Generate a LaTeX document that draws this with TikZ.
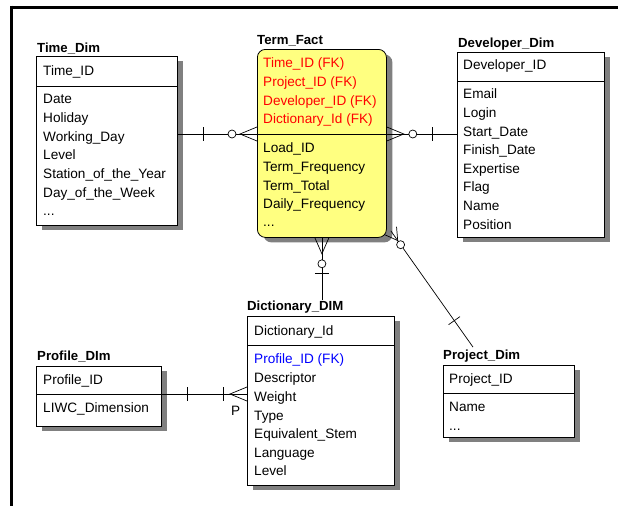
\documentclass[tikz,border=0pt]{standalone}
\usepackage{fontspec}
\setmainfont{Liberation Sans}
\usetikzlibrary{calc,shadows}
\definecolor{factyellow}{RGB}{255,255,128}
\definecolor{shadowgray}{RGB}{128,128,128}
\definecolor{fkred}{RGB}{255,0,0}
\definecolor{fkblue}{RGB}{0,0,255}

\begin{document}
\begin{tikzpicture}[x=1pt,y=-1pt,
  font=\fontsize{13.6}{16}\selectfont,
  entity/.style={draw=black, line width=0.8pt, fill=white, anchor=north west, inner sep=0pt,
     general shadow={fill=shadowgray, shadow xshift=6pt, shadow yshift=-5pt}},
  fact/.style={entity, fill=factyellow, rounded corners=8pt},
  row/.style={anchor=west, inner sep=0pt, text height=9.7pt, text depth=0pt},
  title/.style={anchor=base west, inner sep=0pt, text height=9.7pt, font=\fontsize{13.2}{16}\selectfont\bfseries},
  sepline/.style={line width=0.8pt},
  rel/.style={line width=0.7pt},
  opt/.style={rel, fill=white},
]
\useasboundingbox (0,0) rectangle (618,506);

% page frame
\draw[line width=3pt] (10,7) -- (618,7);
\draw[line width=3pt] (11,5.5) -- (11,506);

% ---------- Time_Dim ----------
\node[entity, minimum width=141pt, minimum height=169pt] (time) at (36,56) {};
\node[title] (time-t) at ([xshift=1pt,yshift=4pt]time.north west) {Time\_Dim};
\draw[sepline] ([yshift=-30pt]time.north west) -- ([yshift=-30pt]time.north east);
\node[row] (time-k) at (43,71) {Time\_ID};
\foreach \t [count=\i from 0] in {Date,Holiday,Working\_Day,Level,Station\_of\_the\_Year,Day\_of\_the\_Week}
  \node[row] (time-a\i) at (43,{99+18.7*\i}) {\t};
\node[row] (time-more) at (43,211) {...};

% ---------- Term_Fact ----------
\node[fact, minimum width=129pt, minimum height=188pt] (term) at (257,49) {};
\node[title] (term-t) at ([xshift=0pt,yshift=5pt]term.north west) {Term\_Fact};
\coordinate (tfL) at ([yshift=-85pt]term.north west);
\coordinate (tfR) at ([yshift=-85pt]term.north east);
\draw[sepline] (tfL) -- (tfR);
\foreach \t [count=\i from 0] in {Time\_ID (FK),Project\_ID (FK),Developer\_ID (FK),Dictionary\_Id (FK)}
  \node[row, text=fkred] (term-k\i) at (263,{63+18.7*\i}) {\t};
\foreach \t [count=\i from 0] in {Load\_ID,Term\_Frequency,Term\_Total,Daily\_Frequency}
  \node[row] (term-a\i) at (263,{148+18.6*\i}) {\t};
\node[row] (term-more) at (263,222) {...};

% ---------- Developer_Dim ----------
\node[entity, minimum width=147pt, minimum height=185pt] (dev) at (457,52) {};
\node[title] (dev-t) at ([xshift=1pt,yshift=5pt]dev.north west) {Developer\_Dim};
\draw[sepline] ([yshift=-29pt]dev.north west) -- ([yshift=-29pt]dev.north east);
\node[row] (dev-k) at (463,65) {Developer\_ID};
\foreach \t [count=\i from 0] in {Email,Login,Start\_Date,Finish\_Date,Expertise,Flag,Name,Position}
  \node[row] (dev-a\i) at (463,{94+18.6*\i}) {\t};

% ---------- Dictionary_DIM ----------
\node[entity, minimum width=147pt, minimum height=169pt] (dict) at (247,316) {};
\node[title] (dict-t) at ([xshift=0pt,yshift=6pt]dict.north west) {Dictionary\_DIM};
\draw[sepline] ([yshift=-29pt]dict.north west) -- ([yshift=-29pt]dict.north east);
\node[row] (dict-k) at (254,331) {Dictionary\_Id};
\node[row, text=fkblue] (dict-fk) at (254,359) {Profile\_ID (FK)};
\foreach \t [count=\i from 0] in {Descriptor,Weight,Type,Equivalent\_Stem,Language,Level}
  \node[row] (dict-a\i) at (254,{378+18.6*\i}) {\t};

% ---------- Profile_DIm ----------
\node[entity, minimum width=125pt, minimum height=60pt] (prof) at (36,366) {};
\node[title] (prof-t) at ([xshift=1pt,yshift=6pt]prof.north west) {Profile\_DIm};
\coordinate (pfL) at ([yshift=-28pt]prof.north west);
\coordinate (pfR) at ([yshift=-28pt]prof.north east);
\draw[sepline] (pfL) -- (pfR);
\node[row] (prof-k) at (43,380) {Profile\_ID};
\node[row] (prof-a0) at (43,408) {LIWC\_Dimension};

% ---------- Project_Dim ----------
\node[entity, minimum width=131pt, minimum height=72pt] (proj) at (443,365) {};
\node[title] (proj-t) at ([xshift=0pt,yshift=6pt]proj.north west) {Project\_Dim};
\draw[sepline] ([yshift=-28pt]proj.north west) -- ([yshift=-28pt]proj.north east);
\node[row] (proj-k) at (449,379) {Project\_ID};
\node[row] (proj-a0) at (449,407) {Name};
\node[row] (proj-more) at (449,426) {...};

% ---------- relationships ----------
% Time_Dim -- Term_Fact
\coordinate (r1a) at (time.east |- tfL);
\draw[rel] (r1a) -- (tfL);
\draw[rel] ($(r1a)+(26,-7)$) -- ($(r1a)+(26,7)$);
\draw[rel] ($(tfL)+(0,-7)$) -- ($(tfL)+(-17,0)$) -- ($(tfL)+(0,7)$);
\draw[opt] ($(tfL)+(-25,0)$) circle[radius=4];

% Term_Fact -- Developer_Dim
\coordinate (r2b) at (dev.west |- tfR);
\draw[rel] (tfR) -- (r2b);
\draw[rel] ($(tfR)+(0,-7)$) -- ($(tfR)+(17,0)$) -- ($(tfR)+(0,7)$);
\draw[opt] ($(tfR)+(26,0)$) circle[radius=4];
\draw[rel] ($(r2b)+(-25,-7)$) -- ($(r2b)+(-25,7)$);

% Term_Fact -- Dictionary_DIM
\coordinate (r3b) at (term.south |- dict-t.north);
\draw[rel] (term.south) -- (r3b);
\draw[rel] ($(term.south)+(-7,0)$) -- ($(term.south)+(0,16)$) -- ($(term.south)+(7,0)$);
\draw[opt] ($(term.south)+(0,26)$) circle[radius=4];
\draw[rel] ($(term.south)+(-7,36)$) -- ($(term.south)+(7,36)$);

% Term_Fact -- Project_Dim
\coordinate (r4a) at ([xshift=4pt,yshift=7pt]term.south east);
\coordinate (r4b) at ([xshift=30pt,yshift=2pt]proj-t.north west);
\draw[rel] (r4a) -- (r4b);
\draw[rel] ($(r4a)!7pt!90:(r4b)$) -- ($(r4a)!12pt!(r4b)$) -- ($(r4a)!7pt!-90:(r4b)$);
\draw[opt] ($(r4a)!17pt!(r4b)$) circle[radius=4];
\coordinate (r4bar) at ($(r4a)!110pt!(r4b)$);
\draw[rel] ($(r4bar)!7pt!90:(r4b)$) -- ($(r4bar)!7pt!-90:(r4b)$);

% Profile_DIm -- Dictionary_DIM
\coordinate (r5b) at (dict.west |- pfR);
\draw[rel] (pfR) -- (r5b);
\draw[rel] ($(pfR)+(26,-7)$) -- ($(pfR)+(26,7)$);
\draw[rel] ($(r5b)+(-24,-7)$) -- ($(r5b)+(-24,7)$);
\draw[rel] ($(r5b)+(0,-7)$) -- ($(r5b)+(-17,0)$) -- ($(r5b)+(0,7)$);
\node[anchor=base west, inner sep=0pt] (r5-p) at ($(r5b)+(-16,21)$) {P};
\end{tikzpicture}
\end{document}
